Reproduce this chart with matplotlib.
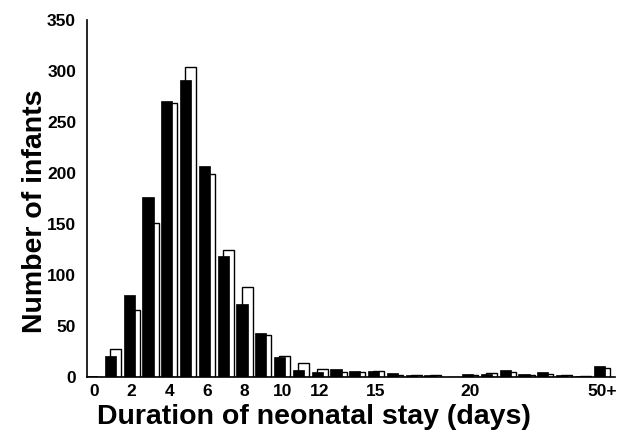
import matplotlib
matplotlib.use("Agg")
import matplotlib.pyplot as plt
import numpy as np

plt.rcParams['font.family'] = ['Liberation Sans', 'DejaVu Sans']
plt.rcParams['font.weight'] = 'bold'

# one bar pair per category; the last category is 50+ days
categories = list(range(28))
black_counts = [1, 21, 81, 177, 271, 291, 207, 119, 72, 43, 20, 7, 5, 8, 6,
                6, 4, 2, 2, 0, 3, 3, 7, 3, 5, 2, 1, 11]
white_counts = [0, 28, 66, 151, 269, 304, 199, 125, 88, 41, 21, 14, 8, 5, 5,
                6, 2, 2, 2, 0, 2, 4, 5, 2, 3, 2, 1, 9]
tick_pos = [0, 2, 4, 6, 8, 10, 12, 15, 20, 27]
tick_labels = ['0', '2', '4', '6', '8', '10', '12', '15', '20', '50+']
y_ticks = [0, 50, 100, 150, 200, 250, 300, 350]

fig = plt.figure(figsize=(6.18, 4.38), dpi=100)
ax = fig.add_axes([0.141, 0.139, 0.854, 0.815])

x = np.array(categories)
w = 0.59
ax.bar(x + 0.135, white_counts, width=w, color='white', edgecolor='black',
       linewidth=1.0, zorder=2)
ax.bar(x - 0.135, black_counts, width=w, color='black', edgecolor='black',
       linewidth=0.5, zorder=3)

ax.set_xlim(-0.37, 27.7)
ax.set_ylim(0, 350)
ax.set_xticks(tick_pos)
ax.set_xticklabels(tick_labels)
ax.set_yticks(y_ticks)
ax.tick_params(axis='both', length=0, labelsize=12.5)
ax.tick_params(axis='y', pad=8)
ax.tick_params(axis='x', pad=5)
for lab in ax.get_xticklabels() + ax.get_yticklabels():
    lab.set_fontweight('bold')

ax.spines['top'].set_visible(False)
ax.spines['right'].set_visible(False)
ax.spines['left'].set_linewidth(1.2)
ax.spines['bottom'].set_linewidth(1.2)

ax.set_xlabel('Duration of neonatal stay (days)', fontsize=20.5,
              fontweight='bold')
ax.set_ylabel('Number of infants', fontsize=20.5, fontweight='bold')
ax.xaxis.set_label_coords(0.43, -0.076)
ax.yaxis.set_label_coords(-0.075, 0.465)

fig.savefig('out.png', dpi=100, facecolor='white')
